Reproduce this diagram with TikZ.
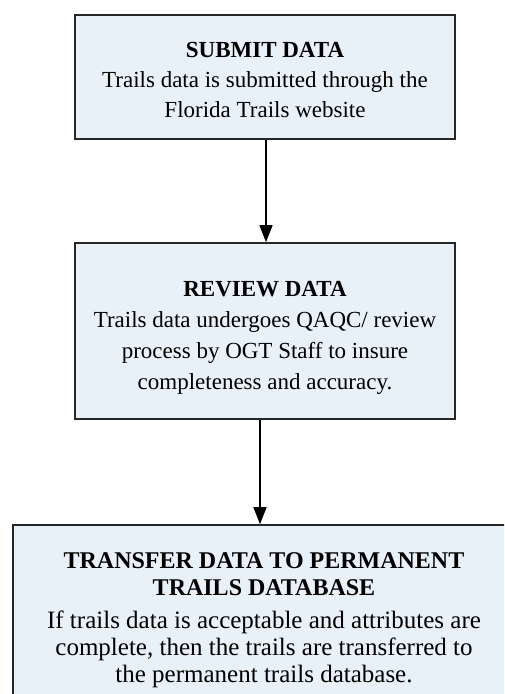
\documentclass[tikz,border=0pt]{standalone}
\usepackage{fontspec}
\setmainfont{Liberation Serif}
\usetikzlibrary{arrows.meta}
\definecolor{boxfill}{rgb}{0.905,0.945,0.97}
\definecolor{boxline}{rgb}{0.15,0.15,0.15}
\tikzset{
  flowbox/.style={draw=boxline, line width=1.6pt, fill=boxfill, inner sep=0pt},
  boxtext/.style={align=center, inner sep=0pt},
  flowarrow/.style={draw=black, line width=1.5pt, -{Triangle[width=13pt,length=17pt]}}
}
\begin{document}
\begin{tikzpicture}[x=1pt,y=-1pt]
\useasboundingbox (0,0) rectangle (504,694);
\clip (0,0) rectangle (504,694);
\fill[white] (0,0) rectangle (504,694);
\node[flowbox, minimum width=380pt, minimum height=124pt] (submit) at (265,77) {};
\node[boxtext, font=\fontsize{23}{30}\selectfont] (submittext) at (265,80)
  {\textbf{SUBMIT DATA}\\Trails data is submitted through the\\Florida Trails website};
\node[flowbox, minimum width=380pt, minimum height=176pt] (review) at (265,331) {};
\node[boxtext, font=\fontsize{23}{31}\selectfont] (reviewtext) at (265,338)
  {\textbf{REVIEW DATA}\\Trails data undergoes QAQC/ review\\process by OGT Staff to insure\\completeness and accuracy.};
\node[flowbox, minimum width=498pt, minimum height=187pt] (transfer) at (262,618.5) {};
\node[boxtext, font=\fontsize{25}{27}\selectfont] (transfertext) at (264,620)
  {{\fontsize{24}{27}\selectfont\textbf{TRANSFER DATA TO PERMANENT}}\\{\fontsize{24}{27}\selectfont\textbf{TRAILS DATABASE}}\\[6pt]If trails data is acceptable and attributes are\\complete, then the trails are transferred to\\the permanent trails database.};
\draw[flowarrow] ([xshift=1pt]submit.south) -- ([xshift=1pt]review.north);
\draw[flowarrow] ([xshift=-5pt]review.south) -- ([xshift=-5pt]review.south |- transfer.north);
\end{tikzpicture}
\end{document}
